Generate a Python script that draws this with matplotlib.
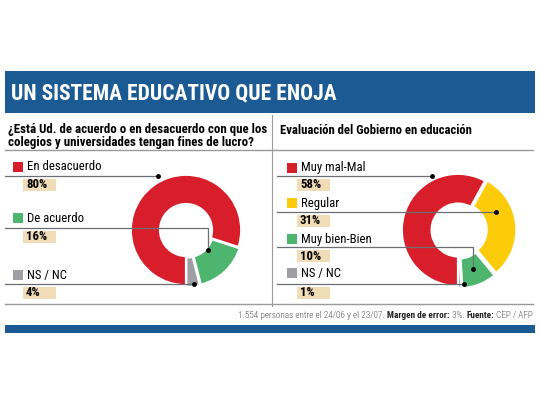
import matplotlib
matplotlib.use('Agg')
import matplotlib.pyplot as plt
from matplotlib.patches import Rectangle

plt.rcParams['font.family'] = ['Roboto Condensed', 'DejaVu Sans']

# datos
title = 'UN SISTEMA EDUCATIVO QUE ENOJA'
left_question = '¿Está Ud. de acuerdo o en desacuerdo con que los\ncolegios y universidades tengan fines de lucro?'
left_labels = ['En desacuerdo', 'De acuerdo', 'NS / NC']
left_values = [80, 16, 4]
right_question = 'Evaluación del Gobierno en educación'
right_labels = ['Muy mal-Mal', 'Regular', 'Muy bien-Bien', 'NS / NC']
right_values = [58, 31, 10, 1]

RED = '#d81e2a'
GREEN = '#4db56d'
GRAY = '#9d9fa2'
YELLOW = '#fccb0a'
BEIGE = '#f1dcb8'
BLUE = '#1b5a93'
LINE = '#6d6e71'

left_colors = [RED, GREEN, GRAY]
right_colors = [RED, YELLOW, GREEN, GRAY]

W, H = 540, 405
fig = plt.figure(figsize=(W / 100, H / 100), dpi=100)
ax = fig.add_axes([0, 0, 1, 1])
ax.set_xlim(0, W)
ax.set_ylim(H, 0)
ax.axis('off')

# cabecera
ax.add_patch(Rectangle((5, 71), 530, 42, color=BLUE, lw=0))
ax.text(11, 93, title, color='white', fontsize=15.5, fontweight='bold', va='center')

# preguntas
ax.text(8, 136, left_question, fontsize=9.3, fontweight='bold', va='center', linespacing=1.05)
ax.text(280, 130, right_question, fontsize=9.1, fontweight='bold', va='center')

# lineas de paneles
ax.plot([5, 533], [150, 150], color='#9a9a9a', lw=1)
ax.plot([5, 533], [303.5, 303.5], color='#9a9a9a', lw=1)
ax.plot([272, 272], [115, 306], color='#9a9a9a', lw=0.8)

# leyendas con lineas guia
def legend_rows(x0, line_x0, labels, values, colors, sq_tops, line_ys, targets):
    for lab, val, col, st, ly, tgt in zip(labels, values, colors, sq_tops, line_ys, targets):
        ax.add_patch(Rectangle((x0, st), 10, 9.5, color=col, lw=0))
        ax.text(x0 + 14, st + 5, lab, fontsize=9.2, va='center')
        ax.add_patch(Rectangle((x0 + 10, ly + 2.5), 33, 12, color=BEIGE, lw=0))
        ax.text(x0 + 13, ly + 9, f'{val}%', fontsize=9.2, fontweight='bold', va='center')
        xs = [line_x0] + [p[0] for p in tgt]
        ys = [ly] + [p[1] for p in tgt]
        ax.plot(xs, ys, color=LINE, lw=0.9)
        ax.plot(xs[-1], ys[-1], 'o', color='black', ms=2.5)


legend_rows(13, 5, left_labels, left_values, left_colors,
            [162, 213, 270], [176, 228, 284],
            [[(158, 176)], [(208, 228), (208, 250)], [(194, 284)]])
legend_rows(287, 277, right_labels, right_values, right_colors,
            [163, 198, 234, 268], [176, 212, 247, 284],
            [[(432, 176)], [(496, 212)], [(473, 247), (473, 269)], [(464, 284)]])

# donas
def donut(cx, cy, r, values, colors, explode):
    dax = fig.add_axes([(cx - r) / W, (H - cy - r) / H, 2 * r / W, 2 * r / H], zorder=0)
    dax.pie(values[::-1], colors=colors[::-1], startangle=-90, counterclock=True,
            explode=explode[::-1], radius=1,
            wedgeprops=dict(width=0.53, edgecolor='white', linewidth=1.6))
    dax.set_xlim(-1.05, 1.05)
    dax.set_ylim(-1.05, 1.05)
    dax.set_aspect('equal')
    dax.axis('off')


donut(186, 230, 58, left_values, left_colors, [0, 0.03, 0.03])
donut(458, 230, 59, right_values, right_colors, [0, 0.04, 0.04, 0.03])
ax.set_zorder(1)
ax.patch.set_visible(False)

# pie de pagina
parts = [(' CEP / AFP', 'light'), ('Fuente:', 'bold'), (' 3%. ', 'light'),
         ('Margen de error:', 'bold'), ('1.554 personas entre el 24/06 y el 23/07. ', 'light')]
prev = ax.text(533, 316, parts[0][0], fontsize=6.7, fontweight=parts[0][1],
               color='#555555', ha='right', va='center')
for s, wgt in parts[1:]:
    prev = ax.annotate(s, xy=(0, 0.5), xycoords=prev, ha='right', va='center',
                       fontsize=6.7, fontweight=wgt,
                       color='#222222' if wgt == 'bold' else '#555555')

ax.add_patch(Rectangle((5, 325), 530, 8, color=BLUE, lw=0))

fig.savefig('out.png', dpi=100, facecolor='white')
